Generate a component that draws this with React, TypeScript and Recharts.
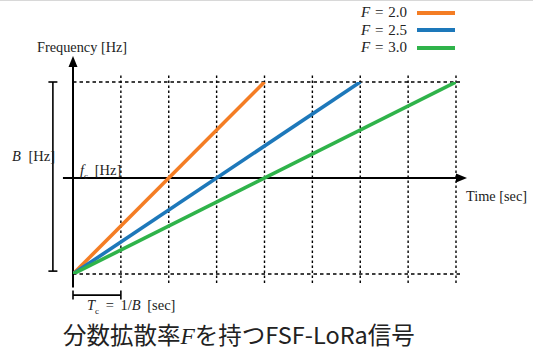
import React from 'react';
import { LineChart, Line, XAxis, YAxis, ReferenceLine } from 'recharts';

// spreading factor F and chirp length (in units of Tc) for each series
const spreadFactors = [2.0, 2.5, 3.0];
const chirpLengths = [4, 6, 8];
const seriesColors = ['#f47d24', '#1d78ba', '#2fb34a'];
// frequency span: bottom (fc - B/2) and top (fc + B/2)
const freqStart = -1;
const freqEnd = 1;
// vertical dotted grid at multiples of Tc
const gridTimes = [1, 2, 3, 4, 5, 6, 7, 8];
const bandEdges = [freqStart, freqEnd];

const series = spreadFactors.map((F, i) => ({
  name: `F = ${F.toFixed(1)}`,
  value: F.toFixed(1),
  color: seriesColors[i],
  data: [
    { t: 0, f: freqStart },
    { t: chirpLengths[i], f: freqEnd },
  ],
}));

const serif = '"Liberation Serif", "DejaVu Serif", serif';

// line with an arrow head at the end point
const ArrowLine = (props: any) => {
  const { x1, y1, x2, y2 } = props;
  const dx = x2 - x1;
  const dy = y2 - y1;
  const len = Math.sqrt(dx * dx + dy * dy) || 1;
  const ux = dx / len;
  const uy = dy / len;
  const head = 11;
  const half = 4.5;
  const bx = x2 - ux * head;
  const by = y2 - uy * head;
  const pts = `${x2},${y2} ${bx - uy * half},${by + ux * half} ${bx + uy * half},${by - ux * half}`;
  return (
    <g>
      <line x1={x1} y1={y1} x2={bx + ux * 2} y2={by + uy * 2} stroke="#000" strokeWidth={2} />
      <polygon points={pts} fill="#000" />
    </g>
  );
};

// line with short perpendicular end caps
const Bracket = (props: any) => {
  const { x1, y1, x2, y2 } = props;
  const dx = x2 - x1;
  const dy = y2 - y1;
  const len = Math.sqrt(dx * dx + dy * dy) || 1;
  const px = (-dy / len) * 4.5;
  const py = (dx / len) * 4.5;
  return (
    <g stroke="#000" strokeWidth={1.6}>
      <line x1={x1} y1={y1} x2={x2} y2={y2} />
      <line x1={x1 - px} y1={y1 - py} x2={x1 + px} y2={y1 + py} />
      <line x1={x2 - px} y1={y2 - py} x2={x2 + px} y2={y2 + py} />
    </g>
  );
};

const label = (left: number, top: number, size: number, content: React.ReactNode, spacing = 0) => (
  <div
    style={{
      position: 'absolute',
      left,
      top,
      fontFamily: serif,
      fontSize: size,
      lineHeight: '16px',
      color: '#222',
      whiteSpace: 'pre',
      wordSpacing: spacing,
    }}
  >
    {content}
  </div>
);

export default function App() {
  return (
    <div
      style={{
        position: 'fixed',
        left: 0,
        top: 0,
        width: 533,
        height: 360,
        background: '#fff',
        overflow: 'hidden',
        borderTop: '1px solid #d8d8d8',
        boxSizing: 'border-box',
      }}
    >
      <LineChart width={533} height={359} margin={{ top: 81, right: 77, bottom: 86, left: 73 }}>
        <XAxis type="number" dataKey="t" domain={[0, 8]} hide allowDataOverflow />
        <YAxis type="number" dataKey="f" domain={[-1, 1]} hide allowDataOverflow />
        {gridTimes.map((t) => (
          <ReferenceLine
            key={`v${t}`}
            ifOverflow="visible"
            segment={[{ x: t, y: -1.095 }, { x: t, y: 1.085 }]}
            stroke="#000"
            strokeWidth={1.4}
            strokeDasharray="2.5 2.5"
          />
        ))}
        {bandEdges.map((f) => (
          <ReferenceLine
            key={`h${f}`}
            ifOverflow="visible"
            segment={[{ x: 0, y: f }, { x: 8.13, y: f }]}
            stroke="#000"
            strokeWidth={1.4}
            strokeDasharray="3.5 3"
          />
        ))}
        <ReferenceLine ifOverflow="visible" segment={[{ x: -0.21, y: 0 }, { x: 8.23, y: 0 }]} shape={ArrowLine} />
        <ReferenceLine ifOverflow="visible" segment={[{ x: 0, y: -1.14 }, { x: 0, y: 1.27 }]} shape={ArrowLine} />
        <ReferenceLine ifOverflow="visible" segment={[{ x: -0.42, y: -0.97 }, { x: -0.42, y: 1 }]} shape={Bracket} />
        <ReferenceLine ifOverflow="visible" segment={[{ x: 0, y: -1.22 }, { x: 1, y: -1.22 }]} shape={Bracket} />
        {series.map((s) => (
          <Line
            key={s.name}
            data={s.data}
            dataKey="f"
            name={s.name}
            stroke={s.color}
            strokeWidth={3.6}
            dot={false}
            activeDot={false}
            isAnimationActive={false}
            type="linear"
          />
        ))}
      </LineChart>
      {/* legend */}
      <div style={{ position: 'absolute', left: 300, top: 3, width: 155, fontFamily: serif, fontSize: 15, color: '#222' }}>
        {series.map((s) => (
          <div key={s.name} style={{ display: 'flex', alignItems: 'center', justifyContent: 'flex-end', height: 17.5 }}>
            <span style={{ wordSpacing: 1 }}>
              <i>F</i> = {s.value}
            </span>
            <span style={{ display: 'inline-block', width: 38, height: 4, background: s.color, marginLeft: 10 }} />
          </div>
        ))}
      </div>
      {label(37, 38, 14.3, 'Frequency [Hz]')}
      {label(12, 147, 14.5, (
        <span>
          <i>B</i> [Hz]
        </span>
      ), 4)}
      {label(80, 161, 14.5, (
        <span>
          <i>f</i>
          <sub style={{ fontSize: 9 }}>c</sub> [Hz]
        </span>
      ), 3)}
      {label(466, 187, 14.3, 'Time [sec]')}
      {label(87, 296, 14.5, (
        <span>
          <i>T</i>
          <sub style={{ fontSize: 9 }}>c</sub> = 1/<i>B</i> [sec]
        </span>
      ), 3)}
      <div
        style={{
          position: 'absolute',
          left: 63,
          top: 318,
          fontFamily: '"Noto Sans CJK JP", "Noto Sans", sans-serif',
          fontSize: 23.5,
          lineHeight: '30px',
          color: '#222',
          whiteSpace: 'nowrap',
        }}
      >
        分数拡散率<i style={{ fontFamily: serif }}>F</i>を持つFSF-LoRa信号
      </div>
    </div>
  );
}
